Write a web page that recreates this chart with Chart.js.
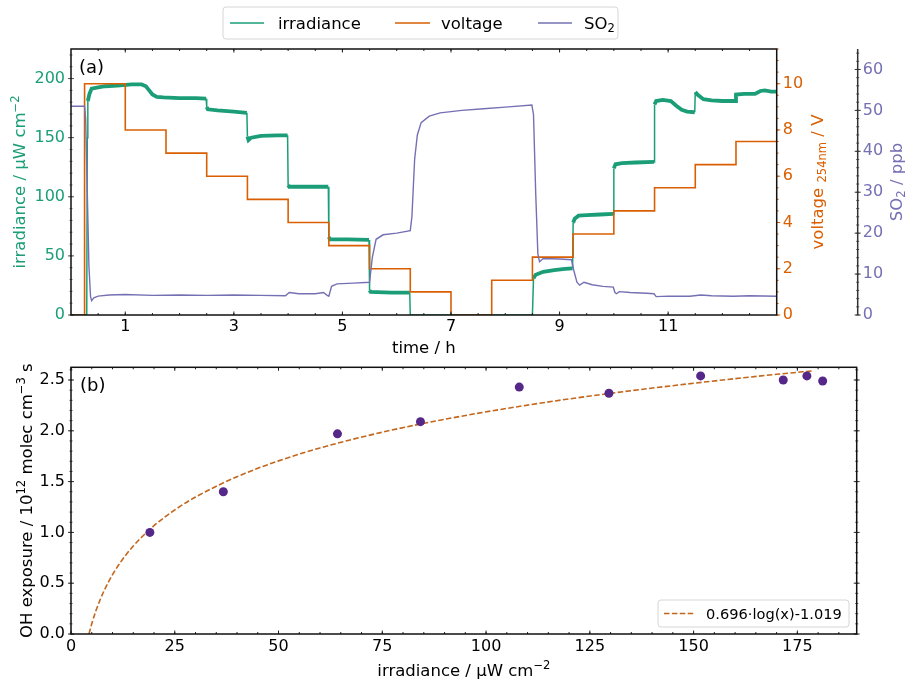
<!DOCTYPE html>
<html>
<head>
<meta charset="utf-8">
<script src="https://cdn.jsdelivr.net/npm/chart.js@4.4.1/dist/chart.umd.min.js"></script>
<style>
	html, body { margin: 0; padding: 0; background: #fff; }
	#wrap { position: relative; width: 907px; height: 680px; background: #fff; }
	#wrap canvas { position: absolute; left: 0; }
	#chartA { top: 0; }
	#chartB { top: 356px; }
</style>
</head>
<body>
<div id="wrap">
	<canvas id="chartA" width="907" height="356"></canvas>
	<canvas id="chartB" width="907" height="324"></canvas>
</div>
<script>
/* global Chart */
( function () {
	'use strict';

	// (a) lamp irradiance, lamp voltage and SO2 over time
	const irrTime = [ 0, 0.29, 0.3, 0.31, 0.34, 0.38, 0.5, 0.63, 0.85, 1.12, 1.3, 1.38, 1.44, 1.5, 1.58, 1.7, 2.0, 2.3, 2.49, 2.5, 2.52, 2.7, 3.0, 3.24, 3.25, 3.27, 3.32, 3.5, 3.8, 3.99, 4.0, 4.02, 4.4, 4.74, 4.75, 4.77, 5.1, 5.49, 5.5, 5.52, 5.9, 6.24, 6.25, 8.5, 8.52, 8.56, 8.7, 8.9, 9.1, 9.24, 9.25, 9.28, 9.35, 9.5, 9.75, 9.99, 10.0, 10.03, 10.15, 10.4, 10.74, 10.75, 10.78, 10.9, 11.05, 11.15, 11.25, 11.35, 11.49, 11.5, 11.55, 11.65, 11.8, 12.0, 12.24, 12.25, 12.4, 12.6, 12.7, 12.78, 12.9, 13 ];
	const irrValue = [ 0, 0, 150, 181, 187, 191.5, 192.5, 193.5, 194, 195, 195, 193.5, 190, 186.5, 184.5, 184, 183.5, 183.5, 183, 176, 174, 173, 172, 171, 151, 148, 150, 151.5, 152, 152, 110, 108.5, 108.5, 108.5, 66, 64, 64, 63.5, 21, 19.5, 19, 19, 0, 0, 31, 34, 36.5, 38, 39, 39.5, 78, 81.5, 84, 84.5, 85, 85.5, 124, 127.5, 128.5, 129, 129.5, 178, 181, 182, 181, 177, 173.5, 172, 171.5, 188.5, 186, 182.5, 181.5, 181, 181, 186.5, 187, 187, 189.5, 190, 189, 189 ];

	const voltTime = [ 0, 0.25, 1, 1.75, 2.5, 3.25, 4, 4.75, 5.5, 6.25, 7, 7.75, 8.5, 9.25, 10, 10.75, 11.5, 12.25 ];
	const voltValue = [ 0, 10, 8, 7, 6, 5, 4, 3, 2, 1, 0, 1.5, 2.5, 3.5, 4.5, 5.5, 6.5, 7.5 ];
	const voltEnd = 13;

	const so2Time = [ 0, 0.25, 0.27, 0.3, 0.33, 0.36, 0.38, 0.42, 0.5, 0.7, 1.0, 1.5, 2.0, 2.5, 3.0, 3.5, 3.95, 4.02, 4.2, 4.5, 4.65, 4.72, 4.75, 4.8, 4.9, 5.2, 5.5, 5.55, 5.62, 5.75, 6.0, 6.25, 6.28, 6.33, 6.38, 6.45, 6.6, 6.8, 7.2, 7.6, 8.0, 8.49, 8.52, 8.56, 8.6, 8.63, 8.7, 9.0, 9.22, 9.26, 9.32, 9.37, 9.45, 9.6, 9.8, 9.99, 10.02, 10.05, 10.1, 10.3, 10.6, 10.74, 10.78, 11.0, 11.4, 11.6, 11.8, 12.2, 12.5, 13 ];
	const so2Value = [ 51, 51, 48, 30, 12, 4.5, 3.5, 4.2, 4.6, 4.9, 5.0, 4.8, 4.9, 4.8, 4.9, 4.8, 4.7, 5.5, 5.2, 5.2, 5.5, 4.8, 4.6, 7.0, 7.6, 7.8, 8.0, 14, 18.5, 19.6, 20.0, 20.6, 24, 38, 44, 47, 48.6, 49.4, 50.0, 50.4, 50.8, 51.3, 49, 30, 15, 13, 13.8, 13.7, 13.5, 11, 8, 7.3, 8.0, 7.4, 7.0, 6.8, 5.5, 5.2, 5.7, 5.5, 5.3, 5.2, 4.5, 4.6, 4.6, 4.9, 4.7, 4.6, 4.7, 4.6 ];

	const timeTicks = [ 1, 3, 5, 7, 9, 11 ];
	const irrTicks = [ 0, 50, 100, 150, 200 ];
	const voltTicks = [ 0, 2, 4, 6, 8, 10 ];
	const so2Ticks = [ 0, 10, 20, 30, 40, 50, 60 ];

	// (b) OH exposure against irradiance, with the log fit
	const expIrr = [ 19.0, 36.7, 64.2, 84.2, 108.0, 129.6, 151.7, 171.6, 177.3, 181.1 ];
	const expOH = [ 1.00, 1.40, 1.97, 2.09, 2.43, 2.37, 2.54, 2.50, 2.54, 2.49 ];
	const fitX = [ 4.33, 5, 6, 7, 8, 10, 12, 15, 20, 25, 30, 40, 50, 60, 75, 90, 110, 130, 150, 170, 179 ];
	const fitY = [ 0.0, 0.101, 0.228, 0.335, 0.428, 0.584, 0.710, 0.866, 1.066, 1.221, 1.348, 1.548, 1.704, 1.831, 1.986, 2.113, 2.253, 2.369, 2.468, 2.556, 2.591 ];
	const fitLabel = '0.696·log(x)-1.019';

	const expXTicks = [ 0, 25, 50, 75, 100, 125, 150, 175 ];
	const expYTicks = [ 0, 0.5, 1.0, 1.5, 2.0, 2.5 ];

	const GREEN = '#1b9e77';
	const ORANGE = '#d95f02';
	const PURPLE = '#7570b3';
	const FIT_COLOR = '#c4661c';
	const DOT_COLOR = '#542788';
	const FONT = "'DejaVu Sans', sans-serif";

	Chart.defaults.font.family = FONT;

	function toPoints( xs, ys ) {
		return xs.map( function ( x, i ) {
			return { x: x, y: ys[ i ] };
		} );
	}

	function stepPoints( xs, ys, end ) {
		const pts = [];
		xs.forEach( function ( x, i ) {
			if ( i > 0 ) {
				pts.push( { x: x, y: ys[ i - 1 ] } );
			}
			pts.push( { x: x, y: ys[ i ] } );
		} );
		pts.push( { x: end, y: ys[ ys.length - 1 ] } );
		return pts;
	}

	function steps( from, to, step ) {
		const out = [];
		for ( let i = 0; from + i * step <= to + 1e-9; i++ ) {
			out.push( from + i * step );
		}
		return out;
	}

	function axis( position, min, max, tickValues, color, pad, size, fmt ) {
		return {
			type: 'linear',
			position: position,
			min: min,
			max: max,
			grid: { display: false, drawTicks: false },
			border: { display: false },
			afterBuildTicks: function ( s ) {
				s.ticks = tickValues.map( function ( v ) {
					return { value: v };
				} );
			},
			afterFit: function ( s ) {
				if ( s.isHorizontal() ) {
					s.height = size;
				} else {
					s.width = size;
				}
				s.paddingTop = 0;
				s.paddingBottom = 0;
				s.paddingLeft = 0;
				s.paddingRight = 0;
			},
			ticks: {
				color: color,
				padding: pad,
				autoSkip: false,
				maxRotation: 0,
				font: { size: 16, family: FONT },
				callback: fmt || function ( v ) {
					return String( v );
				},
			},
		};
	}

	function tickMarks( ctx, scale, values, at, dir, len, color ) {
		ctx.save();
		ctx.strokeStyle = color;
		ctx.lineWidth = 1;
		ctx.beginPath();
		values.forEach( function ( v ) {
			const p = scale.getPixelForValue( v );
			const a = 0 === dir ? at - len : at;
			const b = 0 === dir ? at + len : at + dir * len;
			if ( scale.isHorizontal() ) {
				ctx.moveTo( p, a );
				ctx.lineTo( p, b );
			} else {
				ctx.moveTo( a, p );
				ctx.lineTo( b, p );
			}
		} );
		ctx.stroke();
		ctx.restore();
	}

	// text with super/subscript parts, centred on (x, y)
	function richText( ctx, parts, x, y, rotate, color, size, alignLeft ) {
		ctx.save();
		ctx.translate( x, y );
		if ( rotate ) {
			ctx.rotate( -Math.PI / 2 );
		}
		ctx.fillStyle = color;
		ctx.textBaseline = 'alphabetic';
		ctx.textAlign = 'left';
		const fonts = parts.map( function ( p ) {
			return ( p.sup || p.sub ? size * 0.7 : size ) + 'px ' + FONT;
		} );
		const widths = parts.map( function ( p, i ) {
			ctx.font = fonts[ i ];
			return ctx.measureText( p.t ).width;
		} );
		const total = widths.reduce( function ( s, w ) {
			return s + w;
		}, 0 );
		let cx = alignLeft ? 0 : -total / 2;
		const base = size * 0.36;
		parts.forEach( function ( p, i ) {
			ctx.font = fonts[ i ];
			let dy = 0;
			if ( p.sup ) {
				dy = -size * 0.42;
			} else if ( p.sub ) {
				dy = size * 0.2;
			}
			ctx.fillText( p.t, cx, base + dy );
			cx += widths[ i ];
		} );
		ctx.restore();
	}

	function legendFrame( ctx, x, y, w, h ) {
		const r = 3;
		ctx.save();
		ctx.beginPath();
		ctx.moveTo( x + r, y );
		ctx.lineTo( x + w - r, y );
		ctx.arcTo( x + w, y, x + w, y + r, r );
		ctx.lineTo( x + w, y + h - r );
		ctx.arcTo( x + w, y + h, x + w - r, y + h, r );
		ctx.lineTo( x + r, y + h );
		ctx.arcTo( x, y + h, x, y + h - r, r );
		ctx.lineTo( x, y + r );
		ctx.arcTo( x, y, x + r, y, r );
		ctx.closePath();
		ctx.fillStyle = 'rgba(255, 255, 255, 0.85)';
		ctx.fill();
		ctx.strokeStyle = '#d6d6d6';
		ctx.lineWidth = 1;
		ctx.stroke();
		ctx.restore();
	}

	function legendLine( ctx, x1, x2, y, color, dash ) {
		ctx.save();
		ctx.strokeStyle = color;
		ctx.lineWidth = 1.6;
		ctx.setLineDash( dash || [] );
		ctx.beginPath();
		ctx.moveTo( x1, y );
		ctx.lineTo( x2, y );
		ctx.stroke();
		ctx.restore();
	}

	function label( ctx, text, x, y, size ) {
		ctx.save();
		ctx.fillStyle = '#000';
		ctx.font = size + 'px ' + FONT;
		ctx.textBaseline = 'alphabetic';
		ctx.fillText( text, x, y );
		ctx.restore();
	}

	const panelA = {
		id: 'panelA',
		afterDatasetsDraw: function ( chart ) {
			const ctx = chart.ctx;
			const a = chart.chartArea;
			const sc = chart.scales;
			const soX = sc.yS.left;
			const cy = ( a.top + a.bottom ) / 2;
			const halfHours = steps( 0.5, 12.5, 0.5 );

			tickMarks( ctx, sc.x, halfHours, a.bottom, -1, 2, '#222' );
			tickMarks( ctx, sc.x, timeTicks, a.bottom, -1, 3.5, '#222' );
			tickMarks( ctx, sc.x, halfHours, a.top, 1, 2, '#222' );
			tickMarks( ctx, sc.x, timeTicks, a.top, 1, 3.5, '#222' );
			tickMarks( ctx, sc.y, steps( 0, 220, 10 ), a.left, 0, 1.5, '#777' );
			tickMarks( ctx, sc.y, irrTicks, a.left, 0, 3, '#555' );
			tickMarks( ctx, sc.yV, steps( 0, 11.5, 0.5 ), a.right, 1, 2, ORANGE );
			tickMarks( ctx, sc.yV, voltTicks, a.right, 1, 3.5, ORANGE );
			tickMarks( ctx, sc.yS, steps( 0, 64, 2 ), soX, 0, 1.5, '#555' );
			tickMarks( ctx, sc.yS, so2Ticks, soX, 0, 3, '#333' );

			ctx.save();
			ctx.lineWidth = 1.5;
			ctx.strokeStyle = '#111';
			ctx.strokeRect( a.left, a.top, a.right - a.left, a.bottom - a.top );
			ctx.strokeStyle = '#333';
			ctx.beginPath();
			ctx.moveTo( soX, a.top );
			ctx.lineTo( soX, a.bottom );
			ctx.stroke();
			ctx.restore();

			richText( ctx, [ { t: 'irradiance / µW cm' }, { t: '−2', sup: true } ], 19.5, cy, true, GREEN, 16.5 );
			richText( ctx, [ { t: 'voltage ' }, { t: '254nm', sub: true }, { t: ' / V' } ], 817, cy, true, ORANGE, 16.5 );
			richText( ctx, [ { t: 'SO' }, { t: '2', sub: true }, { t: ' / ppb' } ], 896, cy, true, PURPLE, 16.5 );
			richText( ctx, [ { t: 'time / h' } ], ( a.left + a.right ) / 2, 347, false, '#000', 16.5 );
			label( ctx, '(a)', 79, 72.5, 18 );

			legendFrame( ctx, 223, 7, 395, 32 );
			legendLine( ctx, 230, 264, 23, GREEN );
			legendLine( ctx, 395, 430, 23, ORANGE );
			legendLine( ctx, 538, 572, 23, PURPLE );
			richText( ctx, [ { t: 'irradiance' } ], 278, 23, false, '#000', 16.5, true );
			richText( ctx, [ { t: 'voltage' } ], 441, 23, false, '#000', 16.5, true );
			richText( ctx, [ { t: 'SO' }, { t: '2', sub: true } ], 584, 23, false, '#000', 16.5, true );
		},
	};

	const panelB = {
		id: 'panelB',
		afterDatasetsDraw: function ( chart ) {
			const ctx = chart.ctx;
			const a = chart.chartArea;
			const sc = chart.scales;
			const fives = steps( 0, 185, 5 );
			const tenths = steps( 0, 2.6, 0.1 );

			tickMarks( ctx, sc.x, fives, a.bottom, -1, 2, '#222' );
			tickMarks( ctx, sc.x, expXTicks, a.bottom, -1, 3.5, '#222' );
			tickMarks( ctx, sc.x, fives, a.top, 1, 2, '#222' );
			tickMarks( ctx, sc.x, expXTicks, a.top, 1, 3.5, '#222' );
			tickMarks( ctx, sc.y, tenths, a.left, 0, 1.5, '#555' );
			tickMarks( ctx, sc.y, expYTicks, a.left, 0, 3, '#333' );
			tickMarks( ctx, sc.y, tenths, a.right, 0, 1.5, '#555' );
			tickMarks( ctx, sc.y, expYTicks, a.right, 0, 3, '#333' );

			ctx.save();
			ctx.lineWidth = 1.5;
			ctx.strokeStyle = '#111';
			ctx.strokeRect( a.left, a.top, a.right - a.left, a.bottom - a.top );
			ctx.restore();

			richText( ctx, [ { t: 'OH exposure / 10' }, { t: '12', sup: true }, { t: ' molec cm' }, { t: '−3', sup: true }, { t: ' s' } ], 26, ( a.top + a.bottom ) / 2, true, '#000', 16.5 );
			richText( ctx, [ { t: 'irradiance / µW cm' }, { t: '−2', sup: true } ], ( a.left + a.right ) / 2, 314, false, '#000', 16.5 );
			label( ctx, '(b)', 80, 35, 18 );

			legendFrame( ctx, 658, 244, 191, 27 );
			legendLine( ctx, 664, 694, 257.5, FIT_COLOR, [ 5.5, 2.4 ] );
			richText( ctx, [ { t: fitLabel } ], 706, 257.5, false, '#000', 14.6, true );
		},
	};

	new Chart( document.getElementById( 'chartA' ), {
		type: 'line',
		data: {
			datasets: [
				{
					label: 'irradiance',
					data: toPoints( irrTime, irrValue ),
					yAxisID: 'y',
					borderColor: GREEN,
					borderWidth: 1.5,
					pointRadius: 0,
					order: 3,
					segment: {
						borderWidth: function ( c ) {
							const dy = Math.abs( c.p1.parsed.y - c.p0.parsed.y );
							return dy > 6 || c.p0.parsed.y < 1 ? 1.5 : 3.8;
						},
					},
				},
				{
					label: 'voltage',
					data: stepPoints( voltTime, voltValue, voltEnd ),
					yAxisID: 'yV',
					borderColor: ORANGE,
					borderWidth: 1.6,
					pointRadius: 0,
					order: 2,
				},
				{
					label: 'SO₂',
					data: toPoints( so2Time, so2Value ),
					yAxisID: 'yS',
					borderColor: PURPLE,
					borderWidth: 1.4,
					pointRadius: 0,
					order: 1,
				},
			],
		},
		options: {
			responsive: false,
			animation: false,
			devicePixelRatio: 1,
			layout: { autoPadding: false, padding: { top: 49, left: 0, right: 0, bottom: 0 } },
			plugins: { legend: { display: false }, tooltip: { enabled: false } },
			scales: {
				x: axis( 'bottom', 0, 13, timeTicks, '#000', 2.5, 41 ),
				y: axis( 'left', 0, 225, irrTicks, GREEN, 6, 71 ),
				yV: Object.assign( axis( 'right', 0, 11.5, voltTicks, ORANGE, 6, 81 ), { weight: 0 } ),
				yS: Object.assign( axis( 'right', 0, 65, so2Ticks, PURPLE, 5, 49.3 ), { weight: 1 } ),
			},
		},
		plugins: [ panelA ],
	} );

	new Chart( document.getElementById( 'chartB' ), {
		type: 'line',
		data: {
			datasets: [
				{
					label: fitLabel,
					data: toPoints( fitX, fitY ),
					borderColor: FIT_COLOR,
					borderWidth: 1.6,
					borderDash: [ 5.5, 2.4 ],
					pointRadius: 0,
					cubicInterpolationMode: 'monotone',
					order: 2,
				},
				{
					label: 'OH exposure',
					data: toPoints( expIrr, expOH ),
					showLine: false,
					pointRadius: 4.5,
					pointBackgroundColor: DOT_COLOR,
					pointBorderColor: DOT_COLOR,
					pointBorderWidth: 0,
					order: 1,
				},
			],
		},
		options: {
			responsive: false,
			animation: false,
			devicePixelRatio: 1,
			layout: { autoPadding: false, padding: { top: 11.3, left: 0, right: 50.3, bottom: 0 } },
			plugins: { legend: { display: false }, tooltip: { enabled: false } },
			scales: {
				x: axis( 'bottom', 0, 189.3, expXTicks, '#000', 3, 46 ),
				y: axis( 'left', 0, 2.625, expYTicks, '#000', 6, 71, function ( v ) {
					return v.toFixed( 1 );
				} ),
			},
		},
		plugins: [ panelB ],
	} );
}() );
</script>
</body>
</html>
